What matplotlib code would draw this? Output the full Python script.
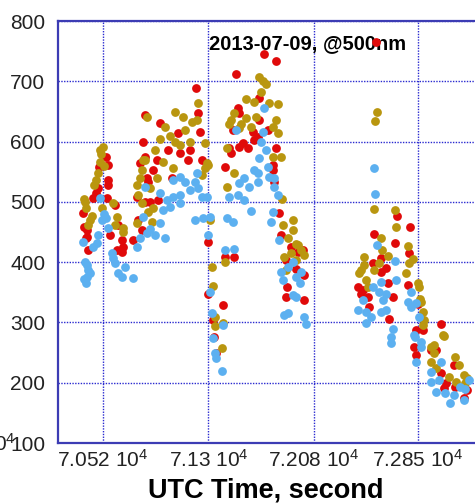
import matplotlib
matplotlib.use("Agg")
import matplotlib.pyplot as plt

plt.rcParams['font.family'] = ['Liberation Sans', 'DejaVu Sans']
plt.rcParams['mathtext.fontset'] = 'custom'
plt.rcParams['mathtext.rm'] = 'Liberation Sans'
plt.rcParams['mathtext.it'] = 'Liberation Sans'

# UTC time (s) and value for the three channels
red_t = [70371, 70401, 70401, 70409, 70446, 70468, 70483, 70490, 70542, 70557,
         70557, 70557, 70550, 70609, 70631, 70572, 70661, 70669, 70661, 70624,
         70379, 70394,
         70743, 70810, 70780, 70832, 70869, 70847, 70795, 70832, 70817, 70832,
         70944, 71077, 71241, 71092, 71166, 71003, 70921, 71151, 71255, 70892,
         71033, 70854, 70773, 70929, 71211, 71226,
         71501, 71709, 71798, 71672, 71516, 71523, 71672, 71738, 71627, 71479,
         71553, 71590, 71523, 71634, 71664, 71798, 71449, 71464, 71776, 71426,
         71776, 71783, 71820, 71835, 71909, 71961, 71998, 71872, 71946, 72006,
         71880, 71872, 72006, 71300, 71300, 71426, 71486, 71411, 71337, 71345,
         71359,
         72541, 72697, 72794, 72526, 72682, 72786, 72578, 72519, 72615, 72578,
         72630, 72779, 72407, 72444, 72667, 72430, 72482, 72489, 72638, 72838,
         72824,
         72853, 73024, 72890, 72838, 72987, 73113, 73024, 73061, 73039, 73121,
         73187, 73210, 72950]
red_v = [482, 453, 442, 420, 506, 515, 523, 558, 574, 561,
         536, 528, 506, 495, 462, 445, 437, 425, 417, 420,
         458, 440,
         437, 453, 470, 500, 500, 539, 564, 574, 599, 644,
         631, 614, 616, 581, 586, 586, 569, 569, 569, 553,
         539, 533, 508, 503, 689, 647,
         712, 745, 734, 672, 656, 647, 636, 619, 616, 619,
         598, 589, 591, 603, 608, 589, 589, 581, 561, 558,
         553, 533, 481, 445, 425, 417, 420, 403, 389, 379,
         359, 342, 337, 433, 348, 408, 408, 329, 304, 276,
         249,
         766, 477, 458, 447, 432, 415, 407, 398, 390, 384,
         365, 362, 359, 354, 342, 348, 342, 326, 306, 287,
         259,
         330, 297, 287, 246, 254, 229, 216, 199, 191, 193,
         175, 188, 255]

gold_t = [70379, 70386, 70409, 70438, 70453, 70468, 70483, 70498, 70498, 70520,
          70505, 70513, 70594, 70624, 70609, 70669, 70669, 70394, 70423, 70527,
          70773, 70884, 70854, 70780, 70795, 70869, 70810, 70773, 70832, 70847,
          71055, 71114, 71181, 71218, 71226, 70981, 71018, 71055, 71092, 71129,
          70944, 71166, 71278, 70906, 70817, 70966, 71293, 71040, 71278, 70921,
          71255, 70810, 70892,
          71672, 71701, 71724, 71687, 71575, 71634, 71746, 71813, 71464, 71649,
          71798, 71776, 71813, 71523, 71486, 71538, 71575, 71612, 71441, 71776,
          71835, 71300, 71486, 71441, 71843, 71315, 71850, 71924, 71924, 71887,
          71946, 71984, 71961, 71909, 71857, 71946, 72006, 71872, 71426, 71330,
          71337, 71352, 71352, 71411, 71404, 71449,
          72549, 72534, 72526, 72682, 72690, 72578, 72779, 72586, 72452, 72630,
          72816, 72563, 72786, 72452, 72430, 72415, 72526, 72764, 72467, 72853,
          72482, 72861, 72868, 72890, 72898,
          72875, 72890, 73039, 72972, 72965, 72950, 73121, 73150, 72987, 73076,
          73187, 73135, 73195, 73210, 72950, 73032]
gold_v = [505, 500, 462, 477, 528, 536, 548, 566, 586, 591,
          580, 490, 498, 475, 462, 457, 450, 490, 470, 560,
          465, 467, 483, 511, 539, 523, 553, 528, 569, 641,
          649, 641, 632, 636, 664, 624, 610, 600, 595, 620,
          605, 600, 598, 586, 569, 566, 564, 556, 556, 539,
          545, 498, 490,
          707, 700, 695, 682, 671, 666, 664, 662, 636, 641,
          636, 624, 614, 622, 648, 630, 640, 625, 589, 574,
          574, 561, 548, 525, 505, 470, 462, 470, 453, 440,
          430, 420, 428, 415, 408, 403, 412, 387, 400, 392,
          360, 309, 294, 299, 258, 630,
          649, 634, 488, 486, 458, 440, 427, 420, 408, 410,
          405, 398, 398, 395, 387, 382, 387, 382, 370, 365,
          359, 359, 339, 317, 304,
          334, 296, 277, 262, 249, 234, 243, 229, 224, 209,
          213, 201, 199, 208, 259, 279]

blue_t = [70498, 70542, 70557, 70483, 70475, 70371, 70446, 70587, 70594, 70609,
          70683, 70401, 70409, 70401, 70423, 70631, 70661, 70743, 70394, 70379,
          70386, 70513, 70527,
          70773, 70795, 70847, 70817, 70832, 71092, 71218, 71040, 71129, 71166,
          71226, 71092, 71255, 71293, 70944, 70996, 71040, 71092, 71018, 70966,
          71315, 70869, 70906, 70944, 70981, 71204,
          71709, 71501, 71701, 71687, 71724, 71672, 71738, 71634, 71664, 71560,
          71664, 71746, 71783, 71523, 71597, 71783, 71813, 71449, 71516, 71560,
          71612, 71204, 71263, 71441, 71479, 71776, 71761, 71300, 71820, 71426,
          71486, 71924, 71887, 71835, 71946, 71984, 71850, 71976, 71946, 71924,
          71857, 71887, 72006, 72021, 71315, 71330, 71411, 71337, 71352, 71359,
          71404,
          72526, 72534, 72549, 72682, 72578, 72690, 72519, 72563, 72615, 72801,
          72444, 72593, 72779, 72838, 72407, 72467, 72578, 72615, 72801, 72504,
          72467, 72861, 72667, 72652, 72831, 72652, 72875,
          72824, 72875, 72838, 73024, 72950, 73002, 73224, 72987, 73158, 73195,
          73047, 73084, 73113, 72950, 73187]
blue_v = [506, 473, 457, 445, 432, 433, 425, 415, 407, 398,
          392, 395, 387, 375, 382, 382, 375, 374, 365, 372,
          400, 470, 480,
          425, 440, 448, 475, 525, 541, 548, 536, 533, 520,
          523, 511, 508, 508, 515, 503, 508, 498, 491, 486,
          475, 455, 445, 465, 440, 533,
          656, 619, 616, 599, 586, 573, 558, 553, 548, 539,
          533, 541, 539, 531, 525, 525, 511, 508, 511, 503,
          485, 470, 473, 473, 467, 483, 467, 445, 437, 420,
          422, 400, 392, 384, 375, 384, 370, 365, 342, 345,
          312, 315, 309, 297, 350, 315, 296, 274, 249, 241,
          219,
          556, 513, 428, 402, 367, 370, 359, 350, 348, 350,
          337, 337, 334, 332, 321, 317, 317, 321, 326, 309,
          299, 309, 289, 276, 276, 266, 268,
          279, 259, 234, 234, 218, 204, 204, 185, 193, 189,
          183, 166, 179, 201, 171]

x_ticks = [70520, 71300, 72080, 72850]
x_labels = [r'7.052 $10^4$', r'7.13 $10^4$', r'7.208 $10^4$', r'7.285 $10^4$']
y_ticks = [100, 200, 300, 400, 500, 600, 700, 800]

frame = '#3c3cb4'

fig = plt.figure(figsize=(4.75, 5.04), dpi=100)
# the plot area runs past the right edge of the figure
ax = fig.add_axes([0.122, 0.121, 0.92, 0.837])

ms = 40
ax.scatter(red_t, red_v, s=ms, color='#e00a0a', linewidths=0, zorder=3)
ax.scatter(gold_t, gold_v, s=ms, color='#b9960f', linewidths=0, zorder=4)
ax.scatter(blue_t, blue_v, s=ms, color='#5cb0f0', linewidths=0, zorder=5)

ax.set_xlim(70187, 70187 + 437 * 7.397)
ax.set_ylim(100, 800)
ax.set_xticks(x_ticks)
ax.set_xticklabels(x_labels)
ax.set_yticks(y_ticks)
ax.tick_params(length=0, labelsize=15, labelcolor='#222222', pad=4)
ax.tick_params(axis='y', pad=9)

ax.grid(True, color='#2a2ad0', linestyle=(0, (1, 1)), linewidth=1.0)
for side in ['left', 'bottom', 'top', 'right']:
    ax.spines[side].set_color(frame)
    ax.spines[side].set_linewidth(1.6)

ax.text(0.572, 0.948, '2013-07-09, @500nm', transform=ax.transAxes,
        ha='center', va='center', fontsize=14.5, fontweight='bold', zorder=2)

fig.text(0.56, (504 - 498) / 504, 'UTC Time, second', ha='center',
         va='baseline', fontsize=19.5, fontweight='bold')

# leftover exponent from the clipped first tick label
fig.text(0.032, (504 - 451) / 504, r'0$^4$', ha='right', va='baseline',
         fontsize=15, color='#222222')

fig.savefig('out.png', dpi=100)
